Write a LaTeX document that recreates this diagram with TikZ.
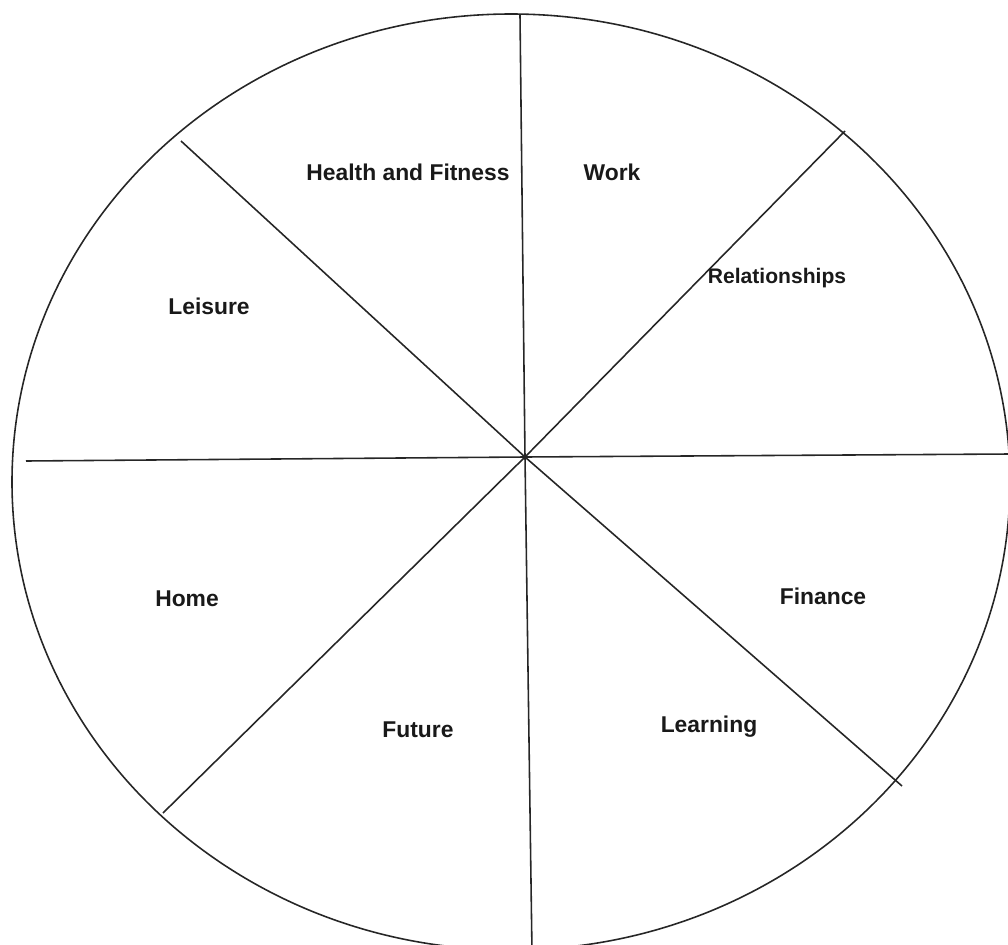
\documentclass[tikz,border=0pt]{standalone}
\usepackage{fontspec}
\setmainfont{Liberation Sans}
\tikzset{area/.style={font=\bfseries\fontsize{13}{15}\selectfont,black!90},
         spoke/.style={line width=0.9pt,black!85}}

\begin{document}
\begin{tikzpicture}[x=0.2mm,y=-0.2mm]
        \useasboundingbox (0,0) rectangle (1008,945);
        % the wheel
        \draw[spoke] (511,482) ellipse [x radius=499,y radius=468];
        \coordinate (hub) at (525,457);
        \coordinate (n) at (520,15);
        \coordinate (s) at (532,952);
        \coordinate (w) at (26,461);
        \coordinate (e) at (1010,454);
        \coordinate (nw) at (181,141);
        \coordinate (ne) at (845,131);
        \coordinate (se) at (902,786);
        \coordinate (sw) at (163,813);
        \draw[spoke] (n) -- (hub) -- (s);
        \draw[spoke] (w) -- (hub) -- (e);
        \draw[spoke] (nw) -- (hub) -- (se);
        \draw[spoke] (ne) -- (hub) -- (sw);
        % labels
        \node[area] (health) at (408,172) {Health and Fitness};
        \node[area] (work) at (612,172) {Work};
        \node[area,font=\bfseries\fontsize{12}{14}\selectfont] (rel) at (777,278) {Relationships};
        \node[area] (leisure) at (209,306) {Leisure};
        \node[area] (home) at (187,599) {Home};
        \node[area] (finance) at (823,596) {Finance};
        \node[area] (future) at (418,730) {Future};
        \node[area] (learning) at (709,727) {Learning};
    \end{tikzpicture}
\end{document}
